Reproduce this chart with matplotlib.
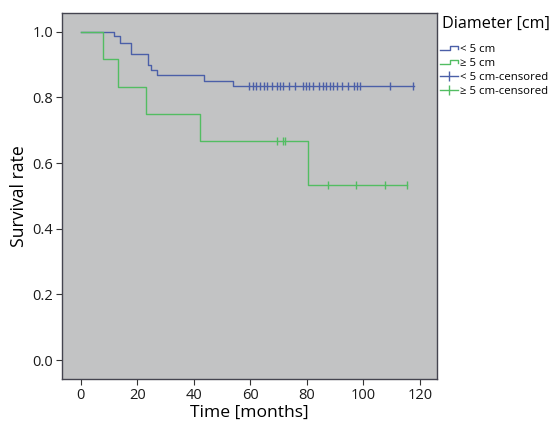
import numpy as np
import matplotlib.pyplot as plt
from matplotlib.lines import Line2D
from matplotlib.legend_handler import HandlerBase

plt.rcParams['font.family'] = ['Open Sans', 'DejaVu Sans']

# Kaplan-Meier steps
blue_times = [0, 11.8, 13.8, 17.7, 23.8, 24.7, 26.8, 43.7, 53.7]
blue_surv = [1.0, 0.987, 0.966, 0.934, 0.900, 0.885, 0.868, 0.851, 0.835]
blue_end = 118.0
blue_cens = [59.5, 60.8, 62.1, 63.4, 64.7, 66.0, 67.5, 69.5, 70.6, 71.6,
             73.6, 75.8, 78.5, 79.7, 80.9, 82.0, 84.4, 85.6, 86.8, 88.1,
             89.3, 90.5, 92.6, 94.6, 96.6, 97.7, 98.8, 109.6, 117.6]

green_times = [0, 7.9, 13.0, 23.0, 42.0, 80.5]
green_surv = [1.0, 0.917, 0.833, 0.750, 0.667, 0.533]
green_end = 115.6
green_cens = [69.6, 71.5, 72.4, 87.6, 97.5, 107.6, 115.6]

labels = ["< 5 cm", "\u2265 5 cm", "< 5 cm-censored", "\u2265 5 cm-censored"]
blue = '#4b5fa8'
green = '#52bd62'


def surv_at(t, times, surv):
    idx = np.searchsorted(times, t, side='right') - 1
    return np.array(surv)[idx]


# little step glyph like the SPSS legend
class StepHandler(HandlerBase):
    def create_artists(self, legend, orig_handle, xdescent, ydescent,
                       width, height, fontsize, trans):
        xs = np.array([0, 0.55, 0.55, 1.0, 1.0]) * width - xdescent
        ys = np.array([0.2, 0.2, 0.75, 0.75, 0.4]) * height - ydescent
        ln = Line2D(xs, ys, color=orig_handle.get_color(), lw=1, transform=trans)
        return [ln]


fig = plt.figure(figsize=(5.6, 4.24), dpi=100)
ax = fig.add_axes([0.1107, 0.106, 0.6693, 0.863])
ax.set_facecolor('#c2c3c4')

b_line, = ax.step(blue_times + [blue_end], blue_surv + [blue_surv[-1]],
                  where='post', color=blue, lw=1)
g_line, = ax.step(green_times + [green_end], green_surv + [green_surv[-1]],
                  where='post', color=green, lw=1)
ax.plot(blue_cens, surv_at(blue_cens, blue_times, blue_surv), ls='none',
        marker='|', ms=6, mew=1, color=blue)
ax.plot(green_cens, surv_at(green_cens, green_times, green_surv), ls='none',
        marker='|', ms=6, mew=1, color=green)

ax.set_xlim(-6.7, 126)
ax.set_ylim(-0.058, 1.057)
ax.set_xticks(np.arange(0, 121, 20))
ax.set_yticks(np.arange(0, 1.01, 0.2))
ax.set_yticklabels(["%.1f" % v for v in np.arange(0, 1.01, 0.2)])
ax.tick_params(labelsize=10.5, length=4, color='#333333', labelcolor='#1a1a1a',
               pad=2.5)
for s in ax.spines.values():
    s.set_color('#44444f')
    s.set_linewidth(1)

ax.set_xlabel("Time [months]", fontsize=12.6, labelpad=1)
ax.set_ylabel("Survival rate", fontsize=12.7, labelpad=3)

fig.text(441.5 / 560, 1 - 24 / 424, "Diameter [cm]", fontsize=11.6,
         ha='left', va='center')

b_c = Line2D([], [], color=blue, lw=1, marker='|', ms=7, mew=1)
g_c = Line2D([], [], color=green, lw=1, marker='|', ms=7, mew=1)
leg = fig.legend([b_line, g_line, b_c, g_c], labels,
                 loc='upper left', bbox_to_anchor=(440 / 560, 1 - 44 / 424),
                 frameon=False, fontsize=8.2,
                 handler_map={b_line: StepHandler(), g_line: StepHandler()},
                 handlelength=1.58, handletextpad=0.2, labelspacing=0.25,
                 borderpad=0, borderaxespad=0)

fig.savefig('out.png', dpi=100)
